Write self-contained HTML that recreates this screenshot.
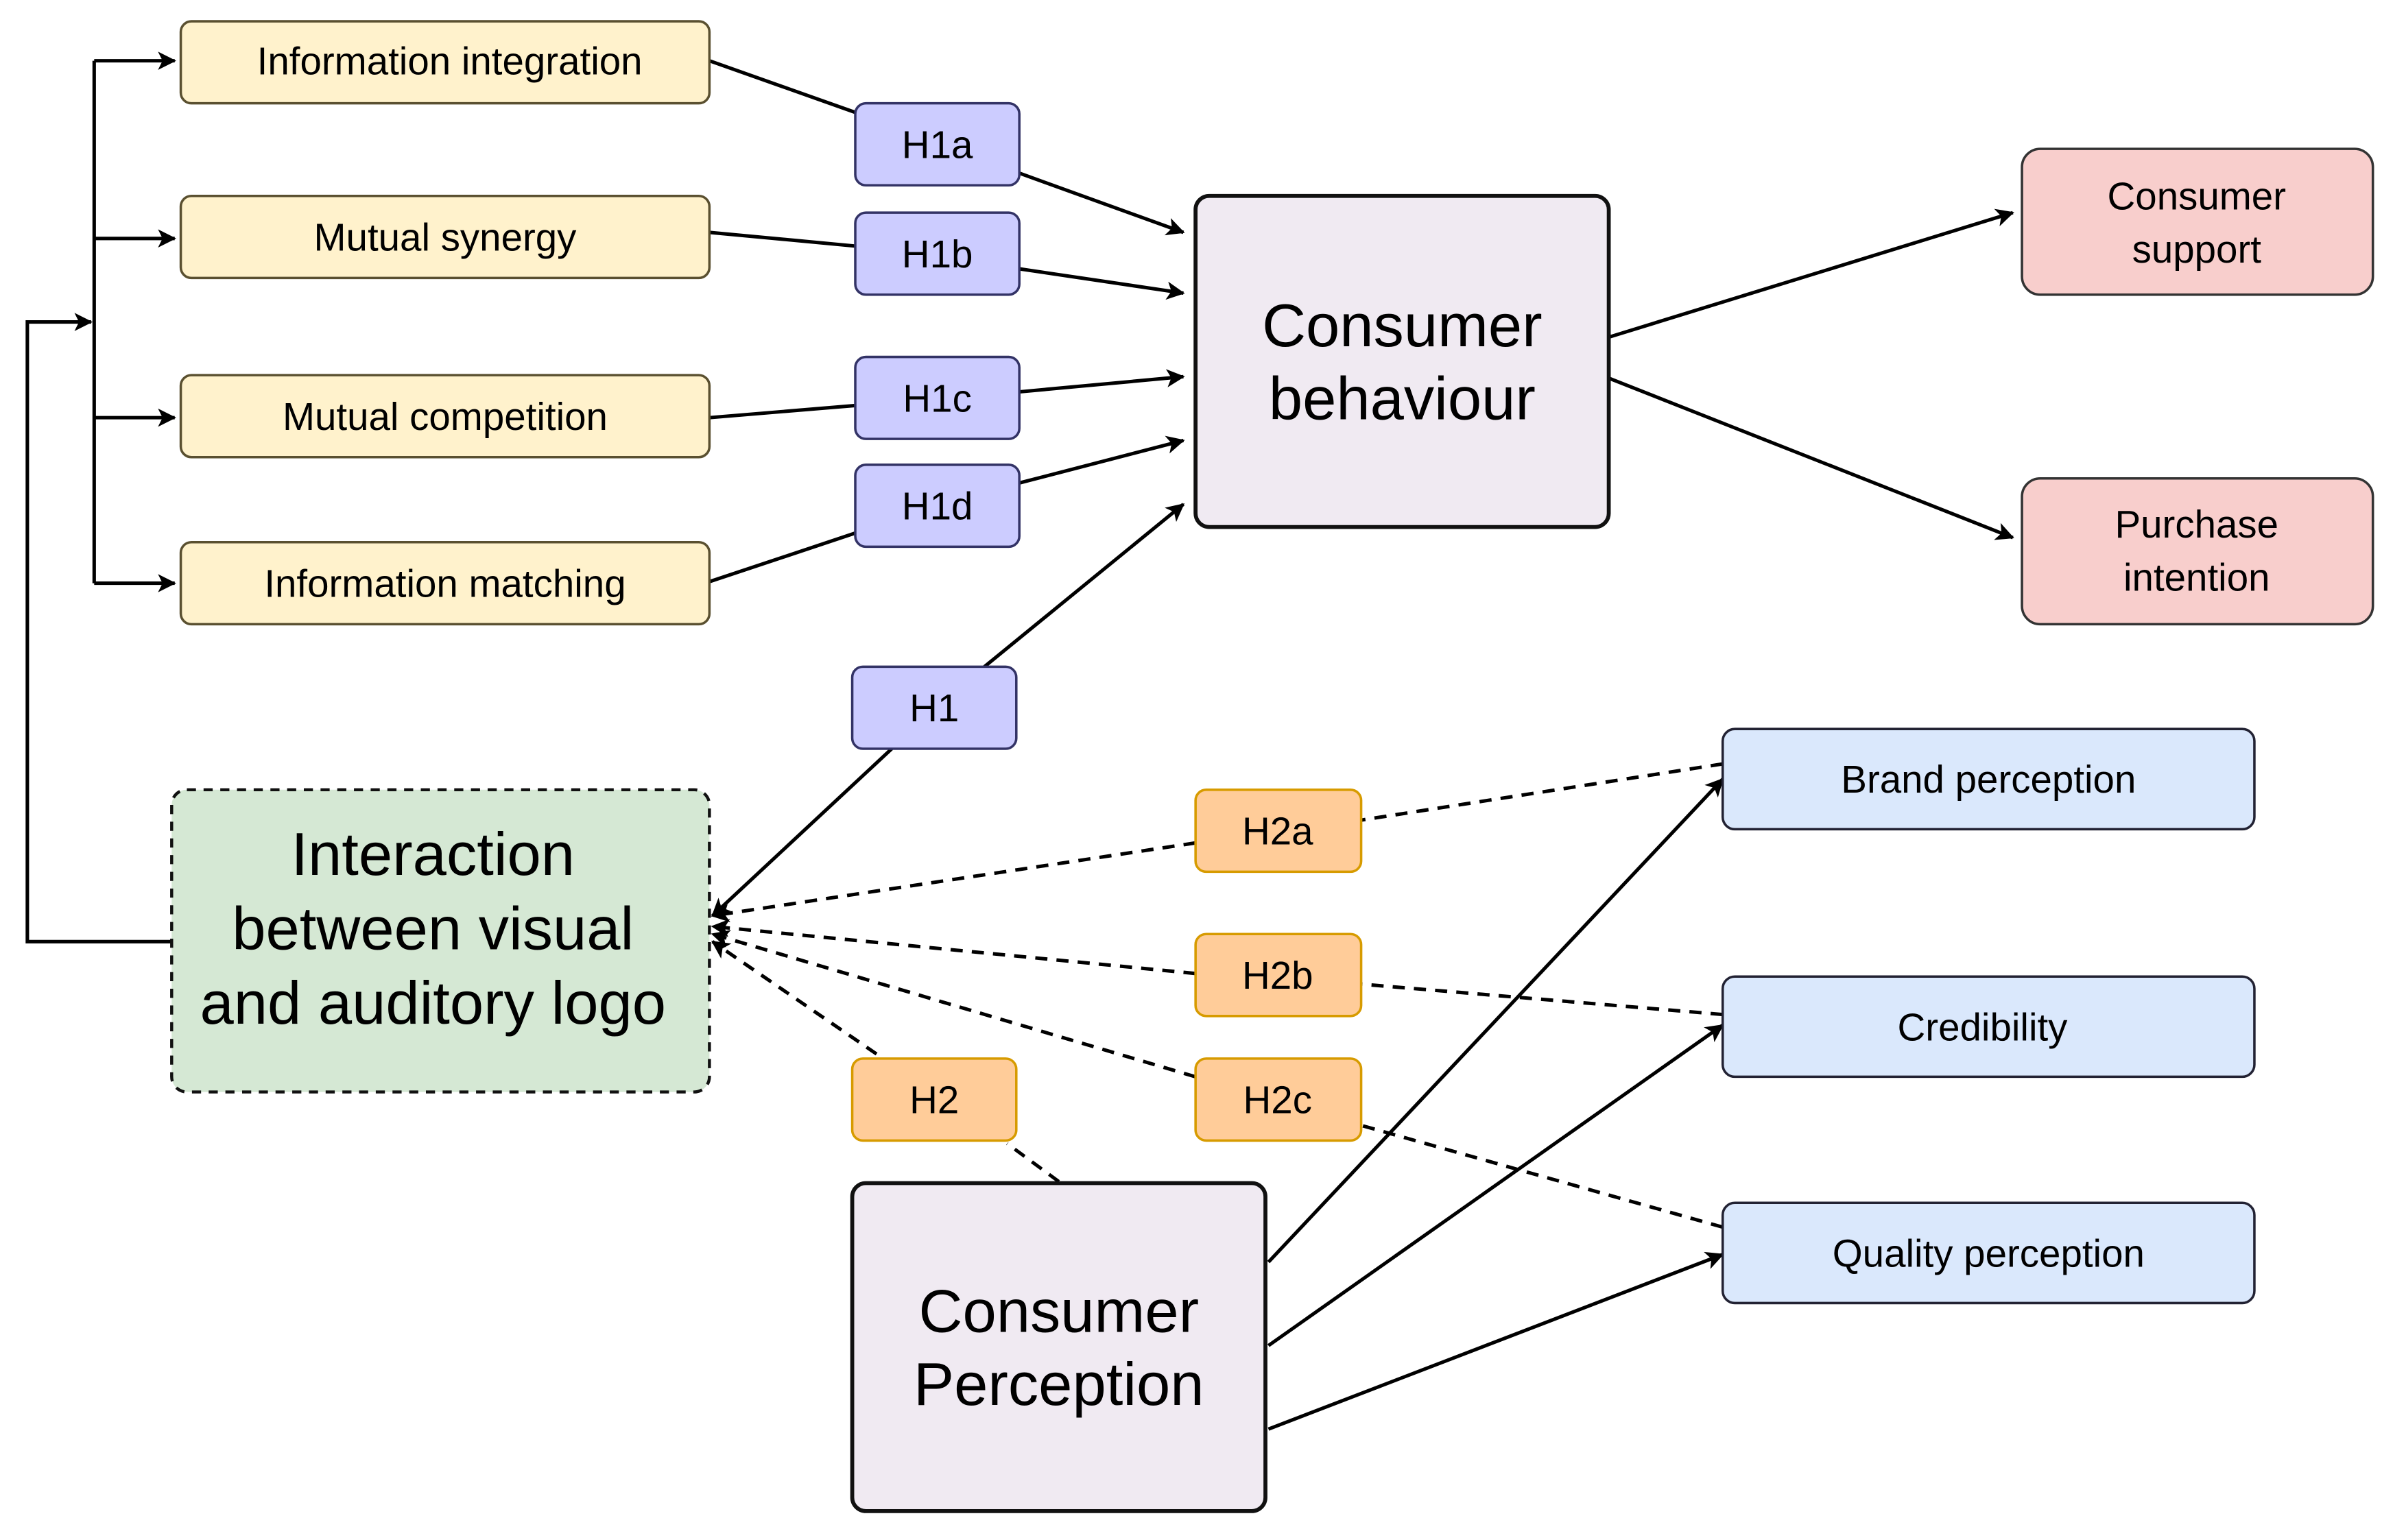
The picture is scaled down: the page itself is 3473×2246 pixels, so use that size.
<!DOCTYPE html>
<html><head><meta charset="utf-8"><style>html,body{margin:0;padding:0;background:#fff}svg{display:block}</style></head>
<body>
<svg width="3473" height="2246" viewBox="0 0 1568 1014" xmlns="http://www.w3.org/2000/svg" font-family="Liberation Sans, Arial, sans-serif">
<defs>
<marker id="a" markerWidth="14" markerHeight="14" refX="11" refY="7" orient="auto" markerUnits="userSpaceOnUse">
<path d="M0,1 L12,7 L0,13 L3,7 Z" fill="#000"/></marker>
</defs>
<g stroke="#000" stroke-width="2.3" fill="none">
<polyline points="62,40 62,384"/>
<line x1="62" y1="40" x2="115" y2="40" marker-end="url(#a)"/>
<line x1="62" y1="157" x2="115" y2="157" marker-end="url(#a)"/>
<line x1="62" y1="275" x2="115" y2="275" marker-end="url(#a)"/>
<line x1="62" y1="384" x2="115" y2="384" marker-end="url(#a)"/>
<polyline points="113,620 18,620 18,212 60,212" marker-end="url(#a)"/>
<line x1="467" y1="40" x2="563" y2="74"/>
<line x1="671" y1="114" x2="779" y2="153" marker-end="url(#a)"/>
<line x1="467" y1="153" x2="563" y2="162"/>
<line x1="671" y1="177" x2="779" y2="193" marker-end="url(#a)"/>
<line x1="467" y1="275" x2="563" y2="267"/>
<line x1="671" y1="258" x2="779" y2="248" marker-end="url(#a)"/>
<line x1="467" y1="383" x2="563" y2="351"/>
<line x1="671" y1="318" x2="779" y2="290" marker-end="url(#a)"/>
<line x1="648" y1="439" x2="779" y2="332" marker-end="url(#a)"/>
<line x1="587" y1="493" x2="469" y2="603" marker-end="url(#a)"/>
<line x1="1059" y1="222" x2="1325" y2="140" marker-end="url(#a)"/>
<line x1="1059" y1="249" x2="1325" y2="354" marker-end="url(#a)"/>
<line x1="835" y1="831" x2="1134" y2="513" marker-end="url(#a)"/>
<line x1="835" y1="886" x2="1134" y2="675" marker-end="url(#a)"/>
<line x1="835" y1="941" x2="1134" y2="826" marker-end="url(#a)"/>
<g stroke-dasharray="8,6">
<line x1="1134" y1="503" x2="896" y2="540"/>
<line x1="787" y1="555" x2="469" y2="603" marker-end="url(#a)"/>
<line x1="1134" y1="668" x2="896" y2="648"/>
<line x1="787" y1="641" x2="469" y2="610" marker-end="url(#a)"/>
<line x1="1134" y1="808" x2="896" y2="741"/>
<line x1="787" y1="709" x2="469" y2="615" marker-end="url(#a)"/>
<line x1="697" y1="778" x2="663" y2="753"/>
<line x1="577" y1="694" x2="469" y2="620" marker-end="url(#a)"/>
</g>
</g>
<g stroke-width="1.6">
<g fill="#fff2cc" stroke="#5a5030">
<rect x="119" y="14" width="348" height="54" rx="7"/>
<rect x="119" y="129" width="348" height="54" rx="7"/>
<rect x="119" y="247" width="348" height="54" rx="7"/>
<rect x="119" y="357" width="348" height="54" rx="7"/>
</g>
<g fill="#ccccff" stroke="#333366">
<rect x="563" y="68" width="108" height="54" rx="7"/>
<rect x="563" y="140" width="108" height="54" rx="7"/>
<rect x="563" y="235" width="108" height="54" rx="7"/>
<rect x="563" y="306" width="108" height="54" rx="7"/>
<rect x="561" y="439" width="108" height="54" rx="7"/>
</g>
<g fill="#ffcc99" stroke="#d79b00">
<rect x="787" y="520" width="109" height="54" rx="7"/>
<rect x="787" y="615" width="109" height="54" rx="7"/>
<rect x="787" y="697" width="109" height="54" rx="7"/>
<rect x="561" y="697" width="108" height="54" rx="7"/>
</g>
<g fill="#f8cecc" stroke="#333">
<rect x="1331" y="98" width="231" height="96" rx="12"/>
<rect x="1331" y="315" width="231" height="96" rx="12"/>
</g>
<g fill="#dae8fc" stroke="#223">
<rect x="1134" y="480" width="350" height="66" rx="8"/>
<rect x="1134" y="643" width="350" height="66" rx="8"/>
<rect x="1134" y="792" width="350" height="66" rx="8"/>
</g>
<g fill="#f0eaf2" stroke="#111" stroke-width="2.6">
<rect x="787" y="129" width="272" height="218" rx="9"/>
<rect x="561" y="779" width="272" height="216" rx="9"/>
</g>
<rect x="113" y="520" width="354" height="199" rx="10" fill="#d5e8d4" stroke="#111" stroke-width="2" stroke-dasharray="6,5"/>
</g>
<g fill="#000" text-anchor="middle" font-size="25.5">
<text x="296" y="49">Information integration</text>
<text x="293" y="165">Mutual synergy</text>
<text x="293" y="283">Mutual competition</text>
<text x="293" y="393">Information matching</text>
<text x="617" y="104">H1a</text>
<text x="617" y="176">H1b</text>
<text x="617" y="271">H1c</text>
<text x="617" y="342">H1d</text>
<text x="615" y="475">H1</text>
<text x="841" y="556">H2a</text>
<text x="841" y="651">H2b</text>
<text x="841" y="733">H2c</text>
<text x="615" y="733">H2</text>
<text x="1446" y="138">Consumer</text>
<text x="1446" y="173">support</text>
<text x="1446" y="354">Purchase</text>
<text x="1446" y="389">intention</text>
<text x="1309" y="522">Brand perception</text>
<text x="1305" y="685">Credibility</text>
<text x="1309" y="834">Quality perception</text>
<g font-size="40">
<text x="923" y="228">Consumer</text>
<text x="923" y="276">behaviour</text>
<text x="697" y="877">Consumer</text>
<text x="697" y="925">Perception</text>
<text x="285" y="576">Interaction</text>
<text x="285" y="625">between visual</text>
<text x="285" y="674">and auditory logo</text>
</g>
</g>
</svg>
</body></html>
